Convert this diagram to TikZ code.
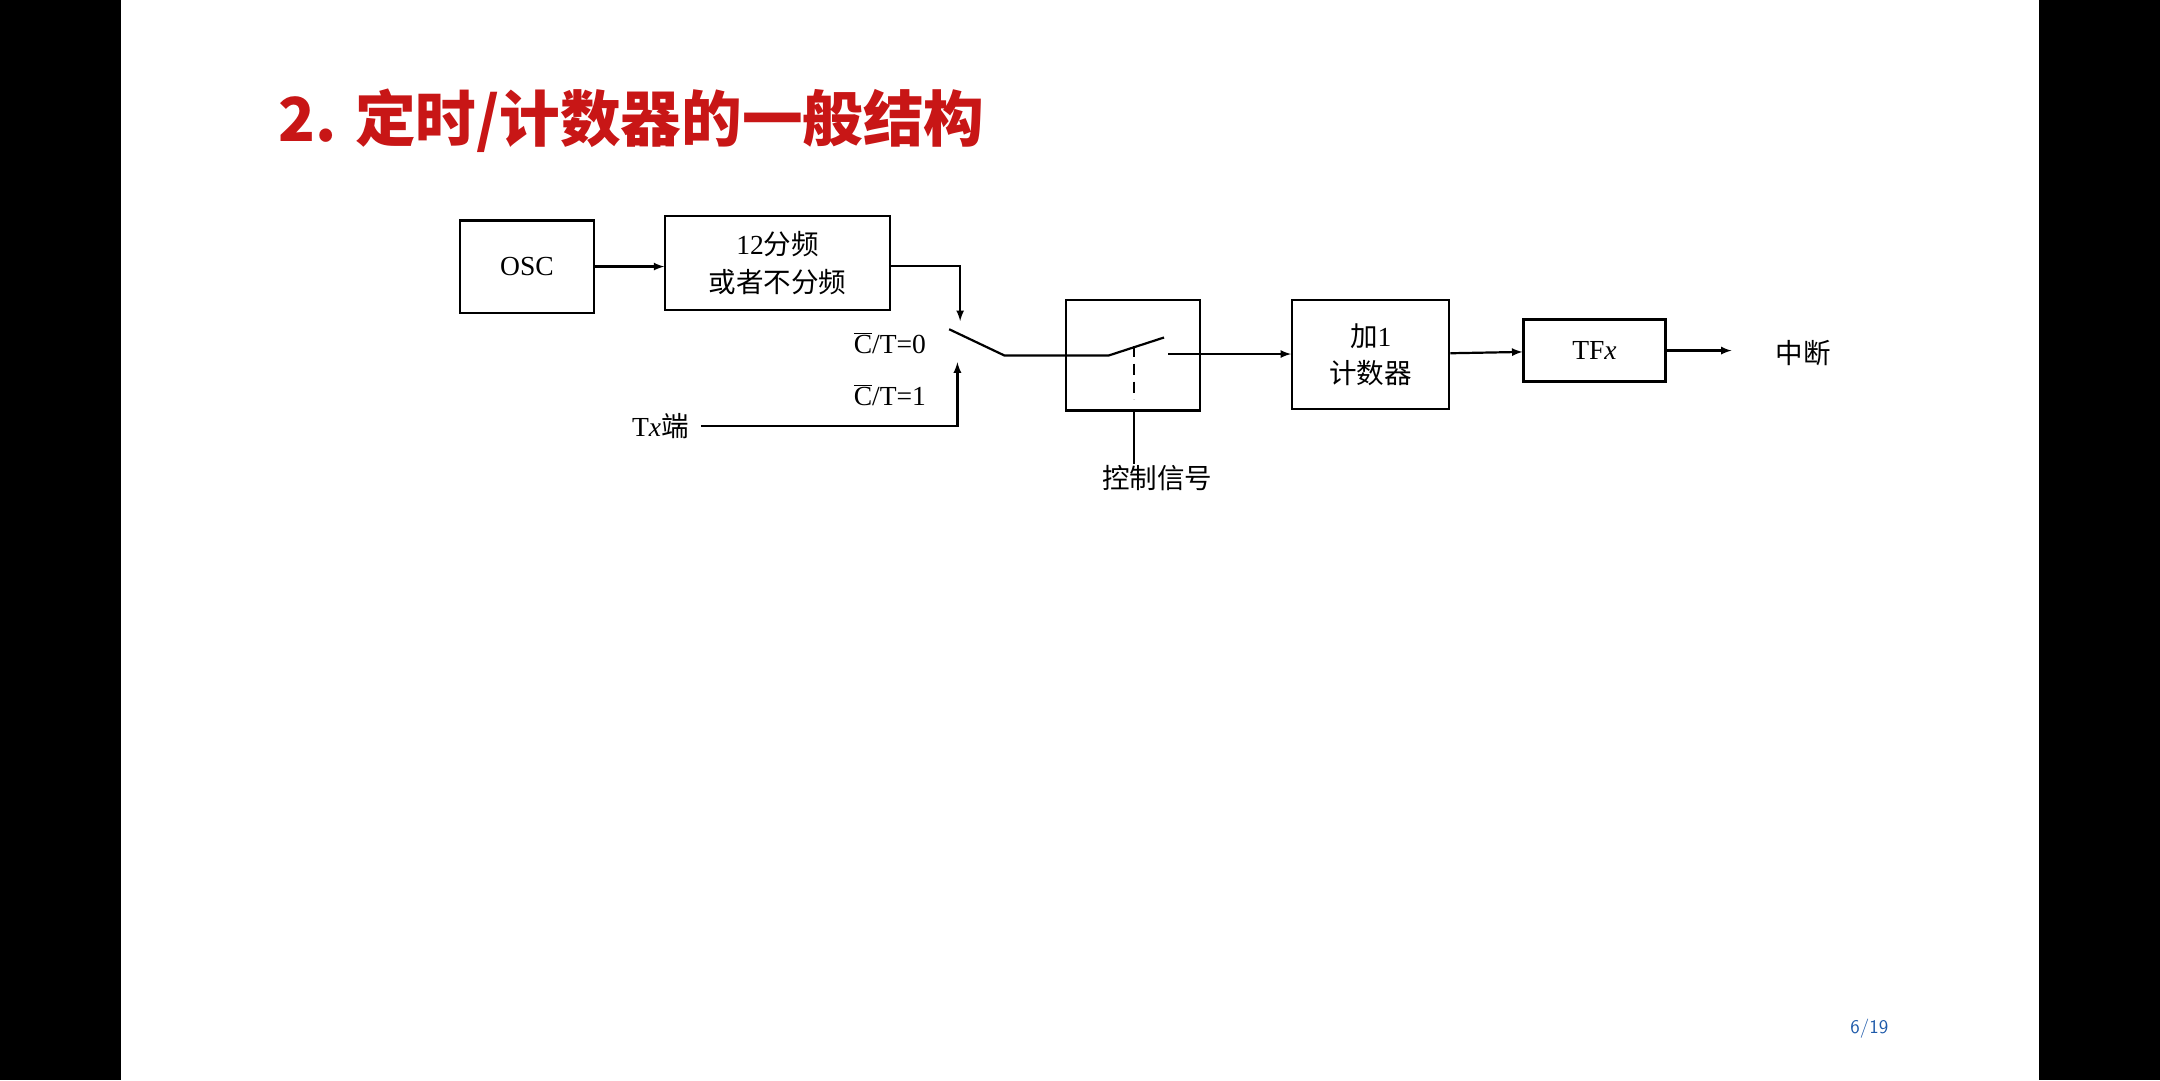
\documentclass[tikz,border=0pt]{standalone}
\usepackage{fontspec}
\setmainfont{Liberation Serif}
\newfontfamily\cjk{Noto Sans CJK SC}
\usetikzlibrary{arrows, positioning}
\definecolor{titlered}{RGB}{200,22,22}
\definecolor{pageblue}{RGB}{30,90,170}
\begin{document}
\begin{tikzpicture}[x=1pt,y=-1pt,>=latex,line width=1.6pt,
    blk/.style={draw,inner sep=0pt,align=center,font=\fontsize{20}{25}\selectfont},
    lbl/.style={font=\fontsize{20}{24}\selectfont,inner sep=0pt}]

    \fill[black] (0,0) rectangle (1568,784);
    \fill[white] (88,0) rectangle (1480,784);

    \node[anchor=west,text=titlered,font=\cjk\bfseries\fontsize{44}{50}\selectfont] (title) at (198,88) {2. 定时/计数器的一般结构};

    \node[blk,minimum width=97pt,minimum height=67pt] (osc) at (382.5,193.5) {OSC};
    \node[blk,minimum width=163pt,minimum height=68pt] (div) at (564.5,191) {12{\cjk 分频}\\[2pt]{\cjk 或者不分频}};
    \node[blk,minimum width=97pt,minimum height=80pt] (gate) at (822.5,258) {};
    \node[blk,minimum width=114pt,minimum height=79pt] (cnt) at (995,257.5) {{\cjk 加}1\\[2pt]{\cjk 计数器}};
    \node[blk,minimum width=103pt,minimum height=45pt] (tf) at (1157.5,254.5) {TF\textit{x}};

    \node[lbl,anchor=west] (tx) at (458,309) {T\textit{x}{\cjk 端}};
    \node[lbl] (ct0) at (646,249) {$\overline{\hbox{C}}$/T=0};
    \node[lbl] (ct1) at (646,287) {$\overline{\hbox{C}}$/T=1};
    \node[lbl] (ctl) at (840,347) {\cjk 控制信号};
    \node[lbl] (irq) at (1309,256) {\cjk 中断};
    \node[text=pageblue,font=\sffamily\fontsize{14}{16}\selectfont] (page) at (1357,747) {6/19};

    % switch contacts
    \coordinate (pivot) at (729,258);
    \coordinate (sw0) at (689,239);
    \coordinate (sw1) at (805,258);
    \coordinate (sw2) at (845,245);
    \coordinate (gout) at (848,257);

    \draw[->] (osc) -- (div.west |- osc);
    \draw[->] (div.east |- 0,193) -| (697,233);
    \draw[->] (tx.east) ++(8,0) -| (695,263);
    \draw (sw0) -- (pivot) -- (sw1) -- (sw2);
    \draw[dashed,dash pattern=on 8pt off 5pt] (823,251) -- (823,290);
    \draw (gate.south -| 823,0) -- (ctl.north -| 823,0);
    \draw[->] (gout) -- (cnt.west |- gout);
    \draw[->] (cnt) -- (tf);
    \draw[->] (tf.east) -- (1257,254.5);

\end{tikzpicture}
\end{document}
